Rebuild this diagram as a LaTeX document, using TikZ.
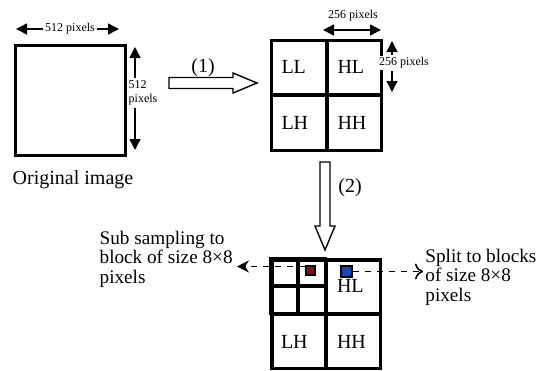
\documentclass[tikz,border=0pt]{standalone}
\usepackage{fontspec}
\setmainfont{Liberation Serif}
\definecolor{subred}{RGB}{140,15,15}
\definecolor{subblue}{RGB}{20,70,190}
\usepackage{tikz}
\usetikzlibrary{arrows.meta,positioning}

\begin{document}
\begin{tikzpicture}[x=0.5pt, y=-0.5pt,
    frame/.style={draw, line width=1.5pt, minimum size=#1, inner sep=0pt},
    band/.style={draw, line width=1pt, minimum width=27pt, minimum height=27pt,
                 inner xsep=5pt, inner ysep=0pt, text width=17pt, align=left,
                 font=\fontsize{10}{11}\selectfont},
    cell/.style={draw, line width=1pt, minimum size=13.5pt, inner sep=0pt},
    hollow/.style={draw, line width=0.7pt, line join=miter},
    dimarr/.style={-{Triangle[length=5.5pt, width=5.5pt]}, line width=0.7pt},
    dimtxt/.style={font=\fontsize{6}{7}\selectfont, inner sep=1pt, align=left},
    dasharr/.style={dashed, line width=0.8pt},
    label/.style={font=\fontsize{9.6}{9.7}\selectfont, align=left, inner sep=0pt}
  ]
    \useasboundingbox (0,0) rectangle (536,370);

    % Original image
    \node[frame=55pt] (orig) at (70,100.5) {};
    \node[font=\fontsize{10}{11}\selectfont] (origtxt) at (73,180) {Original image};

    \coordinate (d1l) at (16,29);
    \coordinate (d1r) at (119,29);
    \node[dimtxt] (d1) at (70,29) {512 pixels};
    \draw[dimarr] (d1.west) -- (d1l);
    \draw[dimarr] (d1.east) -- (d1r);

    \coordinate (d2t) at (135,47);
    \coordinate (d2b) at (135,150);
    \node[dimtxt] (d2) at (143,93) {512\\pixels};
    \draw[dimarr] (d2.north -| d2t) -- (d2t);
    \draw[dimarr] (d2.south -| d2b) -- (d2b);

    % Step (1)
    \coordinate (a1s) at (169,83);
    \coordinate (a1e) at (257,83);
    \draw[hollow] (a1s) ++(0,-5.5) -- ++(64,0) -- ++(0,-4.5) -- (a1e)
      -- ++(-24,10) -- ++(0,-4.5) -- ++(-64,0) -- cycle;
    \node[font=\fontsize{10}{11}\selectfont] (a1txt) at (203,68) {(1)};

    % First decomposition
    \node[frame=55pt] (sub) at (326.5,95) {};
    \node[band, anchor=south east] (ll) at (sub.center) {LL};
    \node[band, anchor=south west] (hl) at (sub.center) {HL};
    \node[band, anchor=north east] (lh) at (sub.center) {LH};
    \node[band, anchor=north west] (hh) at (sub.center) {HH};

    \coordinate (d3l) at (323,30);
    \coordinate (d3r) at (381,30);
    \node[dimtxt] (d3) at (353,16) {256 pixels};
    \draw[dimarr, {Triangle[length=5.5pt, width=5.5pt]}-{Triangle[length=5.5pt, width=5.5pt]}] (d3l) -- (d3r);

    \coordinate (d4t) at (392,41);
    \coordinate (d4b) at (392,92);
    \node[dimtxt, fill=white] (d4) at (404,63) {256 pixels};
    \draw[dimarr] (d4.north -| d4t) -- (d4t);
    \draw[dimarr] (d4.south -| d4b) -- (d4b);

    % Step (2)
    \coordinate (a2s) at (325,162);
    \coordinate (a2e) at (325,250);
    \draw[hollow] (a2s) ++(-5,0) -- ++(0,64) -- ++(-5,0) -- (a2e)
      -- ++(10,-24) -- ++(-5,0) -- ++(0,-64) -- cycle;
    \node[font=\fontsize{10}{11}\selectfont] (a2txt) at (350,188) {(2)};

    % Second decomposition
    \node[frame=54pt] (img) at (326,314) {};
    \node[band, anchor=south east] (ll2) at (img.center) {};
    \node[band, anchor=south west] (hl2) at (img.center) {HL};
    \node[band, anchor=north east] (lh2) at (img.center) {LH};
    \node[band, anchor=north west] (hh2) at (img.center) {HH};
    \foreach \n/\a in {q1/south east, q2/south west, q3/north east, q4/north west}
      \node[cell, anchor=\a] (\n) at (ll2.center) {};

    \node[draw, line width=0.6pt, fill=subred, minimum size=4.5pt, inner sep=0pt] (red) at (310.5,270.5) {};
    \node[draw, line width=0.6pt, fill=subblue, minimum size=5.5pt, inner sep=0pt] (blue) at (346.5,271.5) {};

    % Annotations
    \coordinate (lend) at (237,266.5);
    \coordinate (rend) at (423,271.5);
    \draw[dasharr, -{Stealth[length=6pt, width=6pt]}] ([yshift=2pt]red.west) -- (lend);
    \draw[dasharr, -{To[length=4pt, width=8pt]}] (blue.east) -- (rend);

    \node[label, anchor=east] (subtxt) at (233,259)
      {Sub sampling to\\block of size 8×8\\pixels};
    \node[label, anchor=west] (splittxt) at (425,277)
      {Split to blocks\\of size 8×8\\pixels};
\end{tikzpicture}
\end{document}
